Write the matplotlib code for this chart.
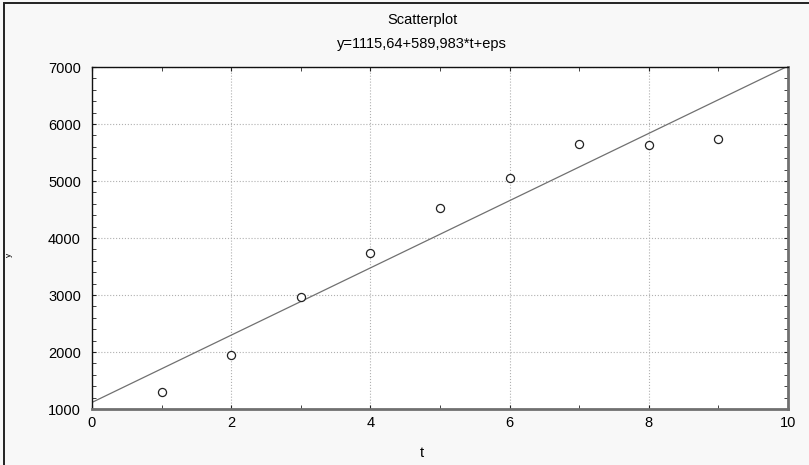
import numpy as np
import matplotlib.pyplot as plt
from matplotlib.ticker import MultipleLocator
from matplotlib.patches import Rectangle

# data
t = [1, 2, 3, 4, 5, 6, 7, 8, 9]
y = [1300, 1950, 2960, 3745, 4535, 5045, 5655, 5635, 5735]
b0 = 1115.64
b1 = 589.983
title = "Scatterplot"
subtitle = "y=1115,64+589,983*t+eps"

plt.rcParams['font.family'] = ['Liberation Sans', 'DejaVu Sans']

fig = plt.figure(figsize=(8.09, 4.65), dpi=100, facecolor='#f8f8f8')
ax = fig.add_axes([92/809, 1-409/465, (788-92)/809, (409-67)/465])
ax.set_facecolor('white')

# outer frame (only left and top visible)
fig.patches.append(Rectangle((4/809, -0.1), 1.2, 1.1 - 3/465, transform=fig.transFigure,
                             fill=False, edgecolor='#222222', lw=1.4))

tl = np.array([0, 10])
ax.plot(tl, b0 + b1*tl, color='#707070', lw=0.9, zorder=2)
ax.scatter(t, y, s=34, facecolors='white', edgecolors='#222222', linewidths=0.9, zorder=3)

ax.set_xlim(0, 10)
ax.set_ylim(1000, 7000)
ax.xaxis.set_major_locator(MultipleLocator(2))
ax.xaxis.set_minor_locator(MultipleLocator(1))
ax.yaxis.set_major_locator(MultipleLocator(1000))
ax.yaxis.set_minor_locator(MultipleLocator(200))
ax.grid(True, which='major', color='#b0b0b0', ls=':', lw=0.8)
ax.tick_params(which='both', direction='in', top=True, right=True, length=3,
               color='#222222', labelsize=10.5, labelcolor='black')
ax.tick_params(axis='x', pad=5)
ax.tick_params(axis='y', pad=8)

ax.spines['top'].set_color('#111111')
ax.spines['left'].set_color('#111111')
ax.spines['top'].set_linewidth(1)
ax.spines['left'].set_linewidth(1)
ax.spines['bottom'].set_color('#707070')
ax.spines['right'].set_color('#707070')
ax.spines['bottom'].set_linewidth(2)
ax.spines['right'].set_linewidth(2)

ax.set_xlabel("t", fontsize=10.5)
ax.xaxis.set_label_coords((422-92)/696, -37/342)
fig.text(422/809, 1-20/465, title, ha='center', va='center', fontsize=10.5)
fig.text(422/809, 1-44/465, subtitle, ha='center', va='center', fontsize=10.5)
# small y label next to the frame
fig.text(9/809, 1-255/465, "y", rotation=90, ha='center', va='center', fontsize=6)

fig.savefig("out.png", dpi=100, facecolor=fig.get_facecolor())
